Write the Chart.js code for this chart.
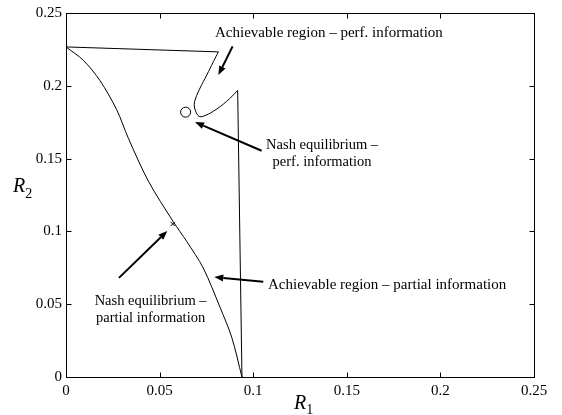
<!DOCTYPE html>
<html>
<head>
<meta charset="utf-8">
<script src="https://cdn.jsdelivr.net/npm/chart.js@4/dist/chart.umd.min.js"></script>
<style>
  html, body { margin: 0; padding: 0; background: #fff; }
  #wrap { width: 562px; height: 415px; }
</style>
</head>
<body>
<div id="wrap"><canvas id="chart"></canvas></div>
<script>
// tick values for both axes
const xTicks = [0, 0.05, 0.1, 0.15, 0.2, 0.25];
const yTicks = [0, 0.05, 0.1, 0.15, 0.2, 0.25];

// achievable region, perfect information (top edge, S-shaped edge, right edge)
const perfTopX = [0, 0.0814];
const perfTopY = [0.2267, 0.2233];
const perfCurveX = [0.0814, 0.0787, 0.0752, 0.0716, 0.0693, 0.0685, 0.0693, 0.0710, 0.0733, 0.0787, 0.0858, 0.0917];
const perfCurveY = [0.2233, 0.2165, 0.2074, 0.1984, 0.1916, 0.1870, 0.1825, 0.1791, 0.1791, 0.1825, 0.1893, 0.1968];
const perfEdgeX = [0.0917, 0.0940];
const perfEdgeY = [0.1968, 0];

// achievable region, partial information
const partX = [0, 0.0092, 0.0182, 0.0271, 0.0333, 0.0440, 0.0573, 0.0645, 0.0733, 0.0823, 0.0885, 0.0940];
const partY = [0.2267, 0.2176, 0.2035, 0.1835, 0.1640, 0.1345, 0.1067, 0.0931, 0.0749, 0.0478, 0.0274, 0];

// Nash equilibria
const nashPerf = [0.0639, 0.1819];
const nashPart = [0.0570, 0.1051];

// annotations: [tailX, tailY, headX, headY]
const arrows = [
  [0.0890, 0.2271, 0.0814, 0.2074],
  [0.1045, 0.1554, 0.0689, 0.1751],
  [0.0283, 0.0681, 0.0541, 0.1003],
  [0.1054, 0.0654, 0.0792, 0.0686]
];
// [text, x, y, align, size]
const labels = [
  ['Achievable region \u2013 perf. information', 0.0796, 0.2337, 'left', 15],
  ['Nash equilibrium \u2013', 0.1368, 0.1566, 'center', 14.5],
  ['perf. information', 0.1368, 0.1447, 'center', 14.5],
  ['Nash equilibrium \u2013', 0.0452, 0.0496, 'center', 14.5],
  ['partial information', 0.0452, 0.0377, 'center', 14.5],
  ['Achievable region \u2013 partial information', 0.1079, 0.0605, 'left', 15]
];

const serif = "'Times New Roman', 'Liberation Serif', serif";

function pts(xs, ys) {
  return xs.map((v, i) => ({ x: v, y: ys[i] }));
}

function lineSet(xs, ys, tension) {
  return {
    data: pts(xs, ys),
    showLine: true,
    borderColor: '#000',
    borderWidth: 1,
    pointRadius: 0,
    tension: tension
  };
}

const decor = {
  id: 'decor',
  afterDatasetsDraw(chart) {
    const ctx = chart.ctx;
    const a = chart.chartArea;
    const xs = chart.scales.x, ys = chart.scales.y;
    ctx.save();
    ctx.strokeStyle = '#000';
    ctx.fillStyle = '#000';
    ctx.lineWidth = 1;
    const L = Math.round(a.left) + 0.5, R = Math.round(a.right) + 0.5;
    const T = Math.round(a.top) + 0.5, B = Math.round(a.bottom) + 0.5;
    ctx.strokeRect(L, T, R - L, B - T);

    // inward ticks on all four sides
    ctx.beginPath();
    xTicks.forEach(v => {
      const p = Math.round(xs.getPixelForValue(v)) + 0.5;
      ctx.moveTo(p, B); ctx.lineTo(p, B - 5);
      ctx.moveTo(p, T); ctx.lineTo(p, T + 5);
    });
    yTicks.forEach(v => {
      const p = Math.round(ys.getPixelForValue(v)) + 0.5;
      ctx.moveTo(L, p); ctx.lineTo(L + 5, p);
      ctx.moveTo(R, p); ctx.lineTo(R - 5, p);
    });
    ctx.stroke();

    // arrows
    arrows.forEach(ar => {
      const x1 = xs.getPixelForValue(ar[0]), y1 = ys.getPixelForValue(ar[1]);
      const x2 = xs.getPixelForValue(ar[2]), y2 = ys.getPixelForValue(ar[3]);
      const ang = Math.atan2(y2 - y1, x2 - x1);
      const hl = 9, hw = 3.5;
      const bx = x2 - hl * Math.cos(ang), by = y2 - hl * Math.sin(ang);
      ctx.lineWidth = 2;
      ctx.beginPath();
      ctx.moveTo(x1, y1); ctx.lineTo(bx, by);
      ctx.stroke();
      ctx.beginPath();
      ctx.moveTo(x2, y2);
      ctx.lineTo(bx + hw * Math.sin(ang), by - hw * Math.cos(ang));
      ctx.lineTo(bx - hw * Math.sin(ang), by + hw * Math.cos(ang));
      ctx.closePath();
      ctx.fill();
    });

    // text labels
    ctx.textBaseline = 'alphabetic';
    labels.forEach(l => {
      ctx.font = l[4] + 'px ' + serif;
      ctx.textAlign = l[3];
      ctx.fillText(l[0], xs.getPixelForValue(l[1]), ys.getPixelForValue(l[2]));
    });

    // axis titles R1 / R2
    ctx.textAlign = 'left';
    ctx.font = 'italic 20px ' + serif;
    ctx.fillText('R', 13, 192);
    let w = ctx.measureText('R').width;
    ctx.font = '14px ' + serif;
    ctx.fillText('2', 13 + w, 198);
    ctx.font = 'italic 20px ' + serif;
    const cx = (a.left + a.right) / 2 - 6;
    ctx.fillText('R', cx, 409);
    w = ctx.measureText('R').width;
    ctx.font = '14px ' + serif;
    ctx.fillText('1', cx + w, 414);
    ctx.restore();
  }
};

function fmt(v) {
  return String(Number(v.toFixed(2)));
}

new Chart(document.getElementById('chart'), {
  type: 'scatter',
  data: {
    datasets: [
      lineSet(perfTopX, perfTopY, 0),
      lineSet(perfCurveX, perfCurveY, 0.4),
      lineSet(perfEdgeX, perfEdgeY, 0),
      lineSet(partX, partY, 0.3),
      {
        data: [{ x: nashPerf[0], y: nashPerf[1] }],
        pointStyle: 'circle',
        pointRadius: 5,
        backgroundColor: '#fff',
        borderColor: '#000',
        borderWidth: 1
      },
      {
        data: [{ x: nashPart[0], y: nashPart[1] }],
        pointStyle: 'crossRot',
        pointRadius: 3,
        borderColor: '#000',
        borderWidth: 1
      }
    ]
  },
  options: {
    responsive: true,
    maintainAspectRatio: false,
    animation: false,
    events: [],
    layout: { padding: { top: 9, right: 28, left: 0, bottom: 0 } },
    plugins: {
      legend: { display: false },
      tooltip: { enabled: false }
    },
    scales: {
      x: {
        type: 'linear',
        min: 0,
        max: 0.25,
        afterBuildTicks: s => { s.ticks = xTicks.map(v => ({ value: v })); },
        afterFit: s => { s.height = 38; },
        grid: { display: false, drawTicks: false },
        border: { display: false },
        ticks: {
          color: '#000',
          padding: 5,
          maxRotation: 0,
          autoSkip: false,
          font: { family: serif, size: 15 },
          callback: v => fmt(v)
        }
      },
      y: {
        type: 'linear',
        min: 0,
        max: 0.25,
        afterBuildTicks: s => { s.ticks = yTicks.map(v => ({ value: v })); },
        afterFit: s => { s.width = 66; },
        grid: { display: false, drawTicks: false },
        border: { display: false },
        ticks: {
          color: '#000',
          padding: 4,
          autoSkip: false,
          font: { family: serif, size: 15 },
          callback: v => fmt(v)
        }
      }
    }
  },
  plugins: [decor]
});
</script>
</body>
</html>
